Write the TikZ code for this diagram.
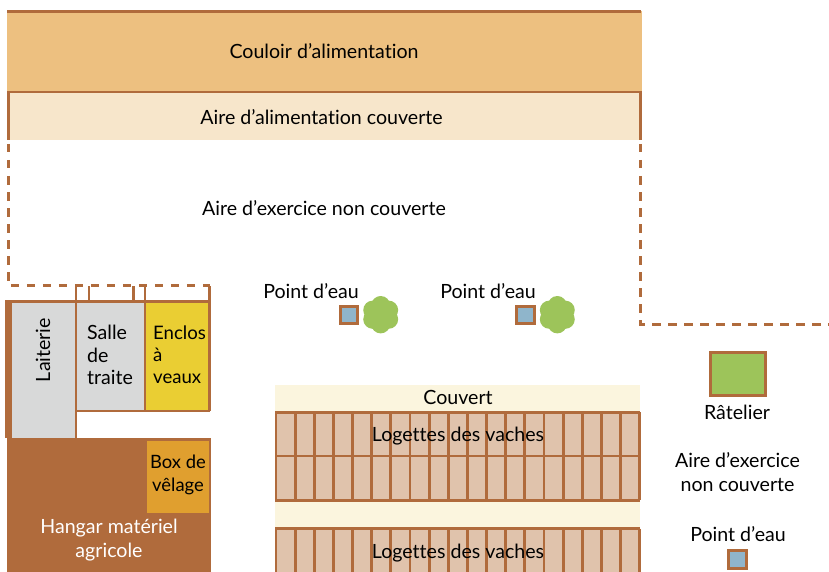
\documentclass[tikz,border=0pt]{standalone}
\usepackage{fontspec}
\setmainfont{Lato}[Ligatures=NoCommon]
\definecolor{wall}{HTML}{B06B3C}
\definecolor{couloir}{HTML}{EDC080}
\definecolor{aire}{HTML}{F7E6CB}
\definecolor{couvert}{HTML}{FBF5DE}
\definecolor{grisc}{HTML}{D8D9D9}
\definecolor{jaune}{HTML}{EACE33}
\definecolor{orangeb}{HTML}{E09F2F}
\definecolor{logette}{HTML}{E0C3AC}
\definecolor{eau}{HTML}{8FB5CB}
\definecolor{vert}{HTML}{9DC45A}
\tikzset{
  txt/.style={inner sep=0pt,font=\fontsize{19.6}{24}\selectfont,text=black},
  wl/.style={draw=wall,line width=2.9pt},
  dsh/.style={draw=wall,line width=2.6pt,dash pattern=on 8.5pt off 7.5pt},
  eaubox/.style={draw=wall,fill=eau,line width=3pt,minimum size=17.5pt,inner sep=0pt},
}
\begin{document}
\begin{tikzpicture}[x=1pt,y=-1pt]
\useasboundingbox (0,0) rectangle (829,572);
% top bands
\fill[couloir] (7,11) rectangle (641.5,92);
\fill[aire] (8,92) rectangle (640,140.5);
\draw[wall,line width=3pt] (7,11.5) -- (641,11.5);
\draw[wl] (8.2,140) -- (8.2,92) -- (640.6,92) -- (640.6,140);
% dashed exercise area
\draw[dsh] (8.5,144) -- (8.5,285.7) -- (210,285.7);
\draw[dsh] (640.6,144) -- (640.6,324.5) -- (829,324.5);
% dairy block
\fill[wall] (5,301) rectangle (12,438);
\fill[grisc] (12,302) rectangle (76,438);
\fill[grisc] (76,302) rectangle (145,411);
\fill[jaune] (145,302) rectangle (209,411);
\draw[wl] (5,301.7) -- (210,301.7);
\draw[wl] (76,286) -- (76,438);
\draw[wl] (89,286) -- (89,301.7);
\draw[wl] (133.5,286) -- (133.5,301.7);
\draw[wl] (145,286) -- (145,411);
\draw[wl] (209.3,286) -- (209.3,411);
\draw[wl] (76,411) -- (210,411);
% hangar
\fill[wall] (7,438) rectangle (211,572);
\fill[orangeb] (147,440.5) rectangle (208.7,513);
% shelter
\fill[couvert] (275,385) rectangle (640,572);
\fill[logette] (275,412.3) rectangle (640,500.3);
\fill[logette] (275,528.7) rectangle (640,572);
\foreach \yt/\yb in {412.3/456,456/500.3,528.7/580}{
  \draw[wl] (275,\yt) -- (640,\yt);
  \draw[wl] (275,\yb) -- (640,\yb);
  \foreach \i in {0,...,19}{
    \draw[wl] ({276+\i*19.14},\yt) -- ({276+\i*19.14},\yb);
  }
}
% bushes
\foreach \cx in {380.7,557.3}{
  \foreach \a in {30,90,...,330}{
    \fill[vert] ({\cx+9.2*cos(\a)},{314.7+9.2*sin(\a)}) circle[radius=9.5];
  }
  \fill[vert] (\cx,314.7) circle[radius=10];
}
% water points
\node[eaubox] (eauA) at (349.2,315) {};
\node[eaubox] (eauB) at (525.5,315) {};
\node[eaubox] (eauC) at (737.7,559.5) {};
% hay rack
\node[draw=wall,fill=vert,line width=3pt,minimum width=55.5pt,minimum height=43.5pt,inner sep=0pt] (ratelier) at (737.9,374.2) {};
% labels
\node[txt] (tCouloir) at (324,51) {Couloir d’alimentation};
\node[txt] (tCouverte) at (321.5,117) {Aire d’alimentation couverte};
\node[txt] (tExercice) at (324,208) {Aire d’exercice non couverte};
\node[txt] (tEauA) at (311,291) {Point d’eau};
\node[txt] (tEauB) at (488,291) {Point d’eau};
\node[txt] (tCouvert) at (458,397) {Couvert};
\node[txt] (tLogA) at (458,436) {Logettes des vaches};
\node[txt] (tLogB) at (458,553) {Logettes des vaches};
\node[txt] (tRat) at (737,412) {Râtelier};
\node[txt,align=center] (tExB) at (737.5,472) {Aire d’exercice\\non couverte};
\node[txt] (tEauC) at (738,534) {Point d’eau};
\node[txt,rotate=90] (tLait) at (43,350) {Laiterie};
\node[txt,align=left,anchor=west,font=\fontsize{19.6}{22.5}\selectfont] (tSalle) at (87,355) {Salle\\de\\traite};
\node[txt,align=left,anchor=west,font=\fontsize{18.6}{22}\selectfont] (tEnclos) at (153,355) {Enclos\\à\\veaux};
\node[txt,align=center,font=\fontsize{18.4}{23}\selectfont] (tBox) at (178,475) {Box de\\vêlage};
\node[txt,align=center,text=white] (tHangar) at (109,540) {Hangar matériel\\agricole};
\end{tikzpicture}
\end{document}
